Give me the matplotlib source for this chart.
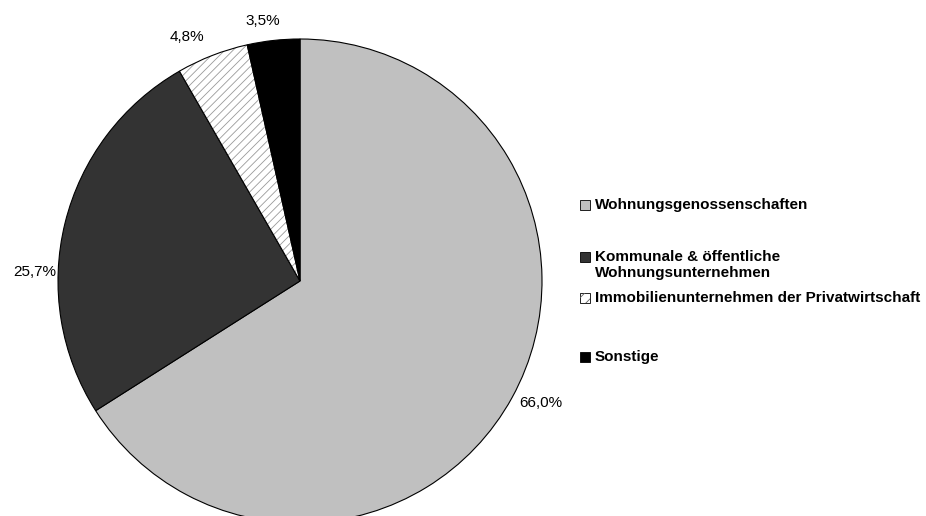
import matplotlib
matplotlib.use("Agg")
import matplotlib.pyplot as plt
from matplotlib.patches import Rectangle, Wedge

categories = ["Wohnungsgenossenschaften",
              "Kommunale & öffentliche\nWohnungsunternehmen",
              "Immobilienunternehmen der Privatwirtschaft",
              "Sonstige"]
values = [66.0, 25.7, 4.8, 3.5]
value_labels = ["66,0%", "25,7%", "4,8%", "3,5%"]

colors = ["#c0c0c0", "#333333", "#ffffff", "#000000"]
hatches = [None, None, "////", None]

plt.rcParams['font.family'] = ['Liberation Sans', 'DejaVu Sans']
plt.rcParams['hatch.linewidth'] = 0.6

W, H = 926, 516
fig = plt.figure(figsize=(W / 100, H / 100), dpi=100)
ax = fig.add_axes([0, 0, 1, 1])

def Y(y_img):
    return H - y_img

cx, cy, R = 300, Y(281), 242
wedges, _ = ax.pie(values, colors=colors, startangle=90, counterclock=False,
                   radius=R, center=(cx, cy),
                   wedgeprops=dict(edgecolor='black', linewidth=0.8))
for w, h in zip(wedges, hatches):
    if h:
        w.set_hatch(h)
        w.set_edgecolor('#9a9a9a')
        w.set_linewidth(0)
        outline = Wedge(w.center, w.r, w.theta1, w.theta2, facecolor='none',
                        edgecolor='black', linewidth=0.8)
        ax.add_patch(outline)

# value label positions (image pixel coords, text centers)
label_pos = [(541, 403), (35, 272), (187, 37), (263, 21)]
for (x, y), t in zip(label_pos, value_labels):
    ax.text(x, Y(y), t, ha='center', va='center', fontsize=11)

# manual legend
row_y = [205, 257, 298, 357]
text_y = [205, 265, 298, 357]
for c, h, lab, ry, ty in zip(colors, hatches, categories, row_y, text_y):
    rect = Rectangle((580, Y(ry) - 5), 10, 10, facecolor=c,
                     edgecolor='black', linewidth=0.6)
    ax.add_patch(rect)
    if h:
        hr = Rectangle((580, Y(ry) - 5), 10, 10, facecolor='none',
                       edgecolor='#606060', linewidth=0, hatch="///")
        ax.add_patch(hr)
    ax.text(595, Y(ty), lab, ha='left', va='center', fontsize=11,
            fontweight='bold', linespacing=1.2)

ax.set_xlim(0, W)
ax.set_ylim(0, H)
ax.set_aspect('equal')
ax.axis('off')

fig.savefig("out.png", dpi=100)
